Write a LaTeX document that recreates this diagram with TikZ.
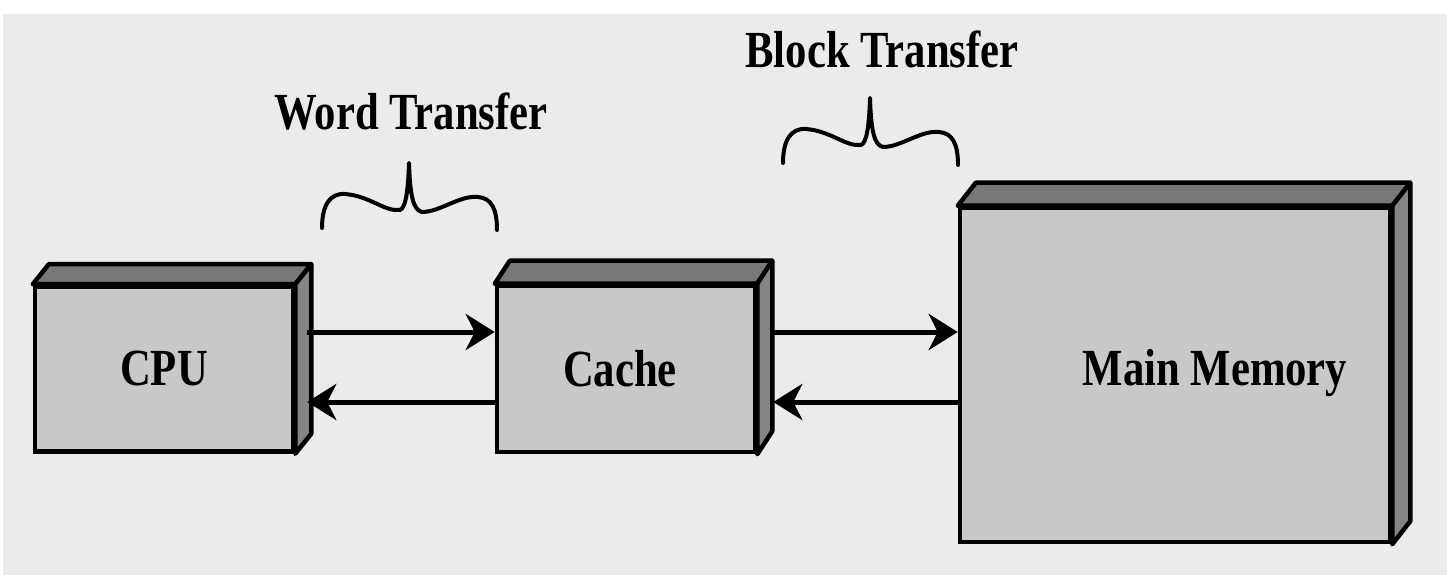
\documentclass[tikz,border=0pt]{standalone}
\usepackage{fontspec}
\setmainfont{Liberation Serif}
\usetikzlibrary{arrows.meta,calc}
\definecolor{bgc}{HTML}{EBEBEB}
\definecolor{frontc}{HTML}{C8C8CA}
\definecolor{topc}{HTML}{787878}
\definecolor{sidec}{HTML}{858585}
\newcommand{\lbl}[1]{\scalebox{1}[1.22]{\fontsize{42.7}{50}\selectfont\bfseries #1}}
\begin{document}
\begin{tikzpicture}[x=1pt,y=-1pt,
  front/.style={draw=black, line width=4.5pt, fill=frontc, inner sep=0pt, rectangle},
  topface/.style={draw=black, line width=4.5pt, fill=topc, line join=round},
  sideface/.style={draw=black, line width=4.5pt, fill=sidec, line join=round},
  arr/.style={line width=5pt, -{Stealth[length=29pt,width=36pt,inset=9pt]}},
  brace/.style={line width=4pt, line cap=round, line join=round},
  lab/.style={anchor=base, inner sep=0pt},
  brc/.pic={\draw[brace] (0,0) .. controls (0,-23) and (8,-35) .. (23,-34)
      .. controls (48,-32) and (63,-16) .. (78,-18)
      .. controls (83,-20) and (86,-33) .. (87,-65)
      .. controls (88,-33) and (91,-18) .. (100,-16)
      .. controls (118,-16) and (138,-33) .. (156,-31)
      .. controls (170,-30) and (175,-18) .. (175,2);}]
\fill[white] (0,0) rectangle (1456,577);
\useasboundingbox (0,0) rectangle (1456,577);
\fill[bgc] (3,14) rectangle (1447,575);

% CPU
\node[front, minimum width=258pt, minimum height=165pt] (cpu) at (164,369) {\raisebox{-4pt}{\lbl{CPU}}};
\draw[topface] (cpu.north west) -- ++(16,-20) -- ([shift={(16,-20)}]cpu.north east) -- (cpu.north east) -- cycle;
\draw[sideface] (cpu.north east) -- ++(16,-20) -- ([shift={(16,-20)}]cpu.south east) -- (cpu.south east) -- cycle;

% Cache
\node[front, minimum width=258pt, minimum height=166pt] (cache) at (626,369) {\hspace*{-12pt}\raisebox{-4pt}{\lbl{Cache}}};
\draw[topface] (cache.north west) -- ++(15,-23) -- ([shift={(15,-23)}]cache.north east) -- (cache.north east) -- cycle;
\draw[sideface] (cache.north east) -- ++(15,-23) -- ([shift={(15,-23)}]cache.south east) -- (cache.south east) -- cycle;

% Main memory
\node[front, minimum width=430pt, minimum height=334pt] (mm) at (1175,375) {};
\draw[topface] (mm.north west) -- ++(18,-23) -- ([shift={(18,-23)}]mm.north east) -- (mm.north east) -- cycle;
\draw[sideface] (mm.north east) -- ++(18,-23) -- ([shift={(18,-23)}]mm.south east) -- (mm.south east) -- cycle;
\node[lab] (mmt) at (1215,385) {\lbl{Main Memory}};

% arrows
\draw[arr] ([xshift=12pt,yshift=37pt]cpu.east) -- ([yshift=37pt]cache.west);
\draw[arr] ([yshift=-33pt]cache.west) -- ([xshift=12pt,yshift=-33pt]cpu.east);
\coordinate (m1) at ([xshift=16pt,yshift=37pt]cache.east);
\coordinate (m2) at ([xshift=16pt,yshift=-33pt]cache.east);
\draw[arr] (m1) -- (mm.west |- m1);
\draw[arr] (mm.west |- m2) -- (m2);

% braces and labels
\pic (wb) at (322,228) {brc};
\pic (bb) at (783,163) {brc};
\node[lab] (wt) at (411,130) {\lbl{Word Transfer}};
\node[lab] (bt) at (882,68) {\lbl{Block Transfer}};
\end{tikzpicture}
\end{document}
